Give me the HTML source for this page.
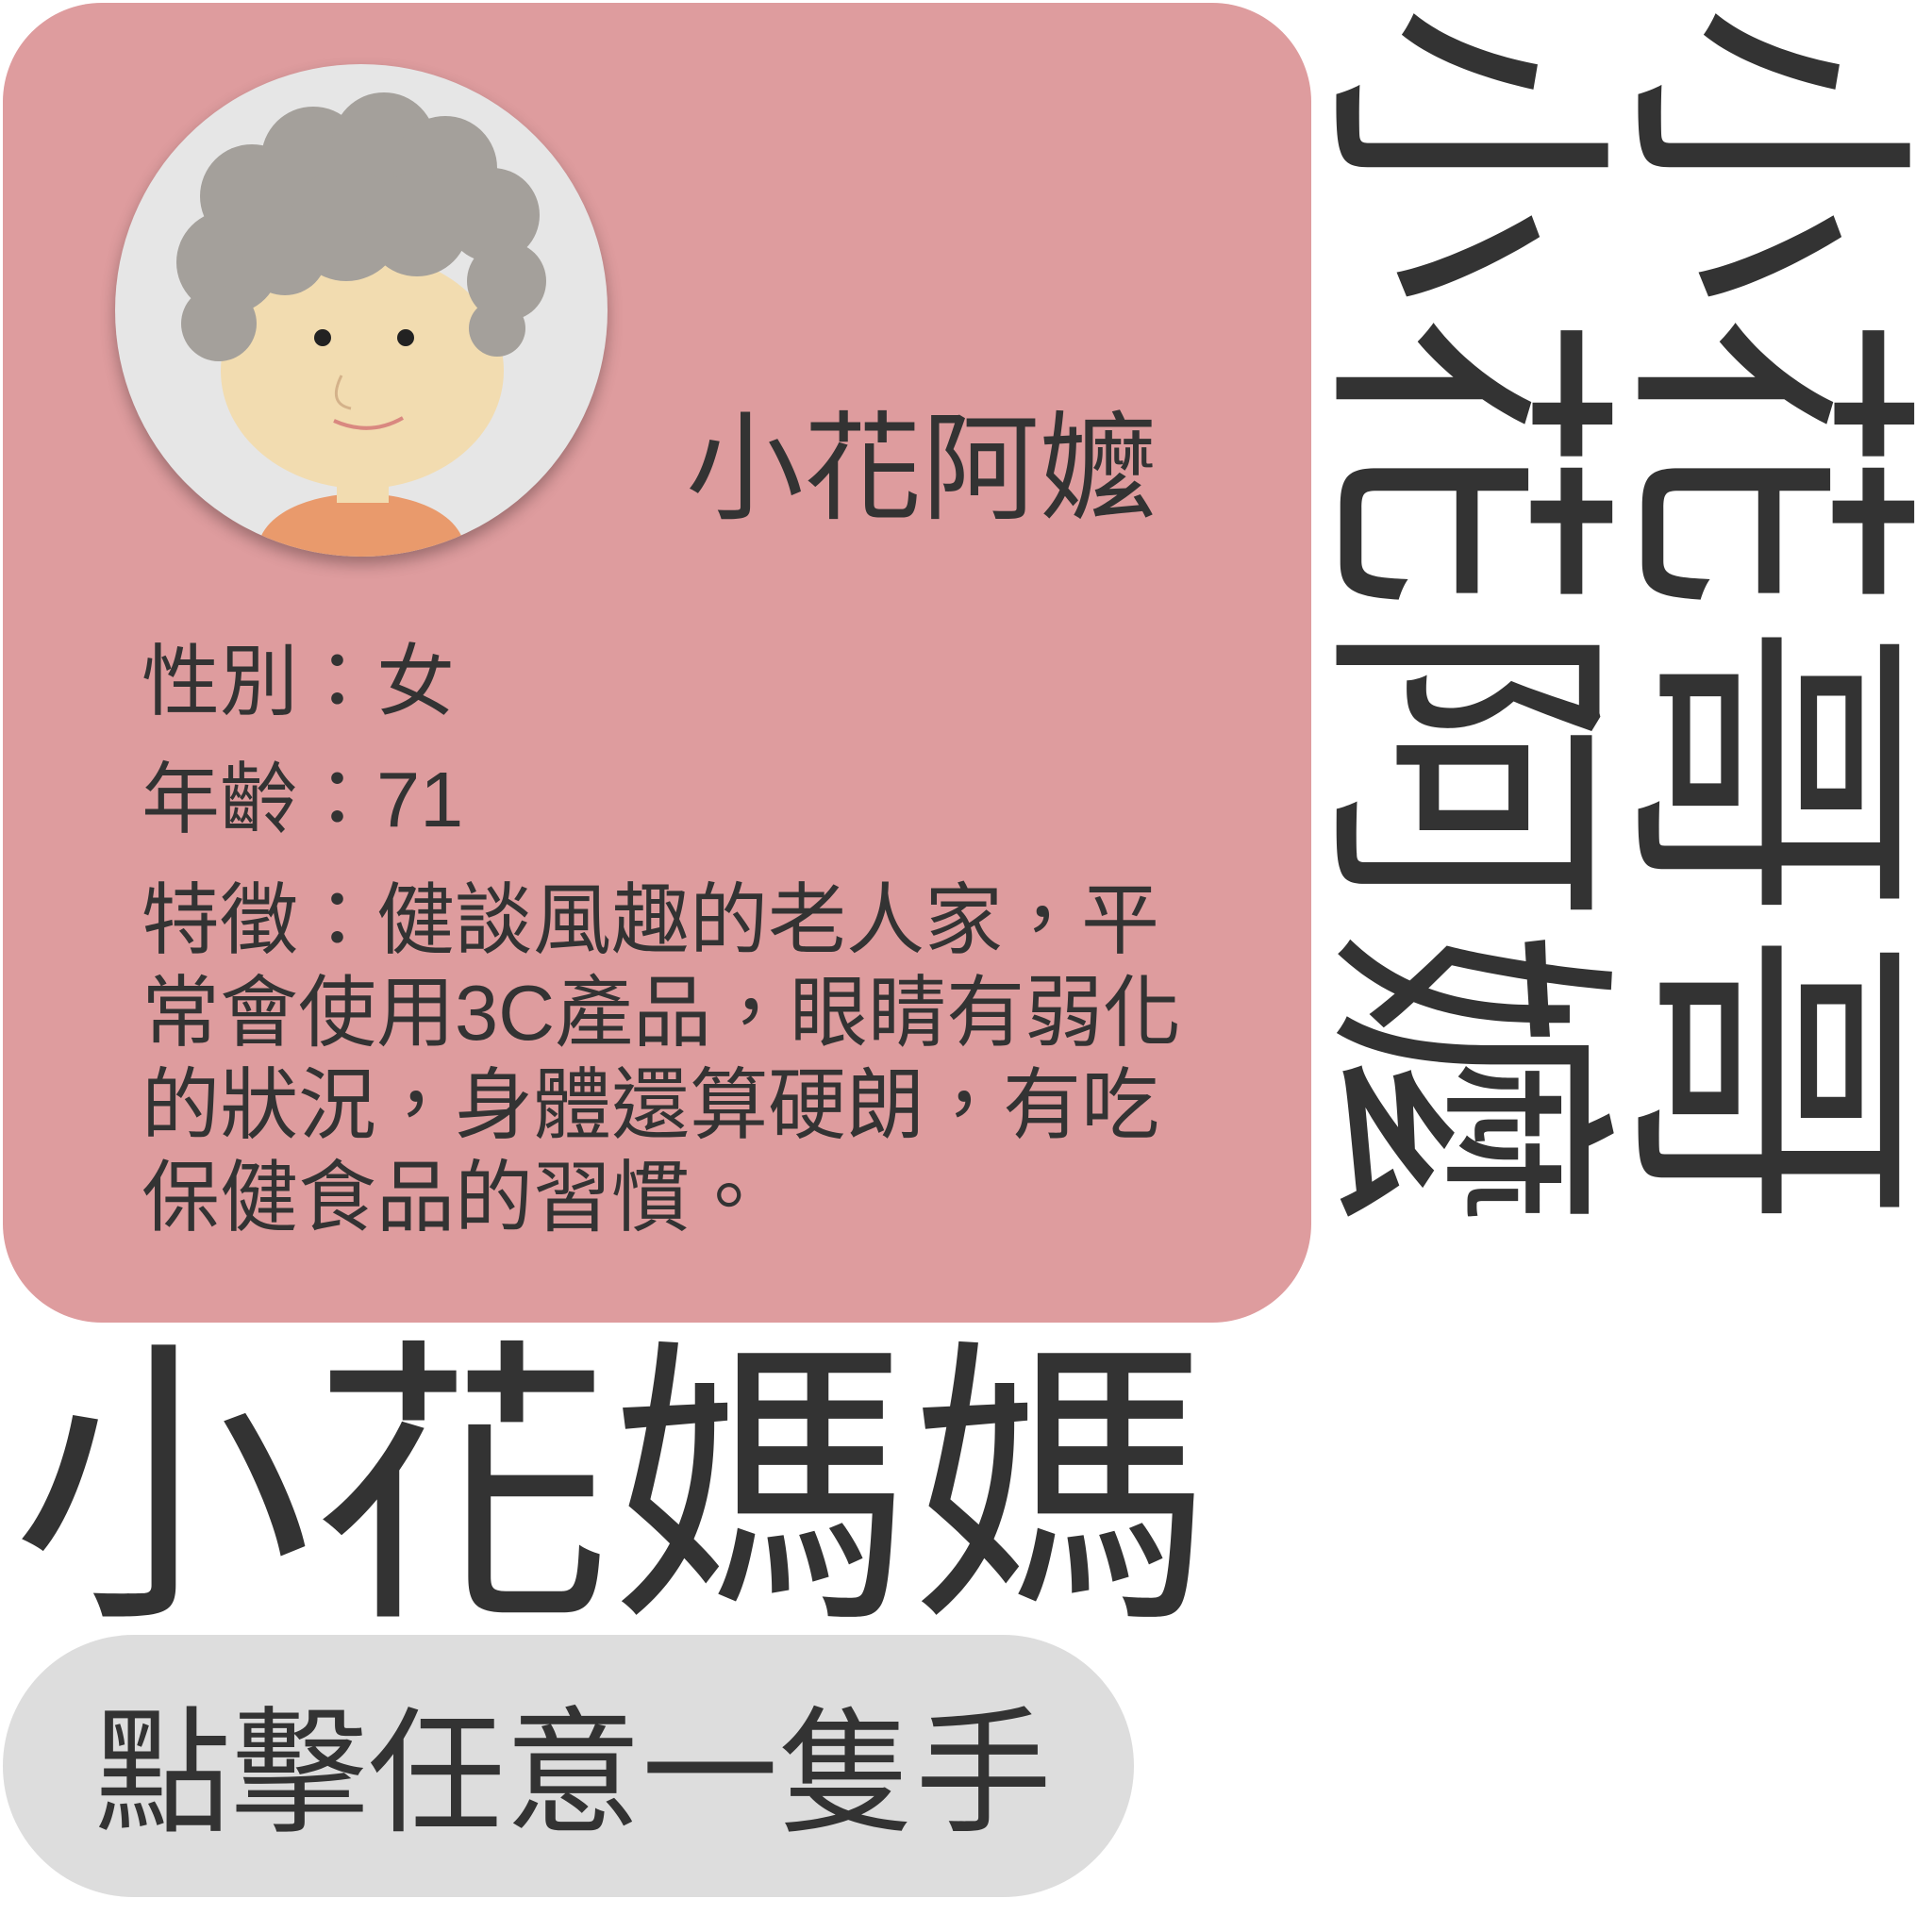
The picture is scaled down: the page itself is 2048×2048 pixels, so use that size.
<!DOCTYPE html>
<html><head><meta charset="utf-8"><style>
body{margin:0;width:2048px;height:2048px;background:#fff;position:relative;overflow:hidden;font-family:"Liberation Sans","Noto Sans CJK TC",sans-serif;color:#333}
.abs{position:absolute}
#card{left:3px;top:3px;width:1387px;height:1399px;background:#de9c9e;border-radius:105px}
#avatar{left:122px;top:68px;width:522px;height:522px;border-radius:50%;background:#e6e6e6;box-shadow:0 8px 16px rgba(0,0,0,.3);overflow:hidden}
#name{left:727px;top:435px;font-size:125px;line-height:1;white-space:nowrap}
.row{position:absolute;left:150px;font-size:83px;line-height:98px;white-space:nowrap}
.vert{writing-mode:vertical-rl;text-orientation:sideways;font-size:318px;line-height:1;top:4px;white-space:nowrap;letter-spacing:9px}
#big{left:13px;top:1420px;font-size:318px;line-height:1;white-space:nowrap}
#pill{left:3px;top:1733px;width:1199px;height:278px;border-radius:139px;background:#dddddd}
#pilltxt{left:100px;top:1808px;font-size:145px;line-height:1;white-space:nowrap}
</style></head><body>
<div id="card" class="abs"></div>
<div id="avatar" class="abs">
<svg width="522" height="522" viewBox="0 0 522 522">
<path d="M150 522 C150 470 220 455 261 455 C302 455 372 470 372 522 Z" fill="#e99a6c"/>
<rect x="235" y="420" width="55" height="45" fill="#f2dcb0"/>
<ellipse cx="262" cy="325" rx="150" ry="125" fill="#f2dcb0"/>
<g fill="#a4a09b">
<circle cx="120" cy="210" r="55"/><circle cx="145" cy="140" r="55"/><circle cx="210" cy="100" r="55"/>
<circle cx="285" cy="85" r="55"/><circle cx="350" cy="110" r="55"/><circle cx="400" cy="160" r="50"/>
<circle cx="415" cy="230" r="42"/><circle cx="405" cy="280" r="30"/><circle cx="110" cy="275" r="40"/>
<circle cx="245" cy="170" r="60"/><circle cx="320" cy="170" r="55"/><circle cx="180" cy="200" r="45"/>
</g>
<circle cx="220" cy="290" r="9" fill="#222"/><circle cx="308" cy="290" r="9" fill="#222"/>
<path d="M240 330 q-15 30 10 35" stroke="#d4b28a" stroke-width="3" fill="none"/>
<path d="M232 378 Q270 395 305 375" stroke="#d98880" stroke-width="4" fill="none"/>
</svg></div>
<div id="name" class="abs">小花阿嬤</div>
<div class="row" style="top:674px">性別：女</div>
<div class="row" style="top:799px">年齡：71</div>
<div class="row" style="top:927px">特徵：健談風趣的老人家，平<br>常會使用3C產品，眼睛有弱化<br>的狀況，身體還算硬朗，有吃<br>保健食品的習慣。</div>
<div class="abs vert" style="left:1392px">小花阿嬤</div>
<div class="abs vert" style="left:1712px">小花哥哥</div>
<div id="big" class="abs">小花媽媽</div>
<div id="pill" class="abs"></div>
<div id="pilltxt" class="abs">點擊任意一隻手</div>
</body></html>
